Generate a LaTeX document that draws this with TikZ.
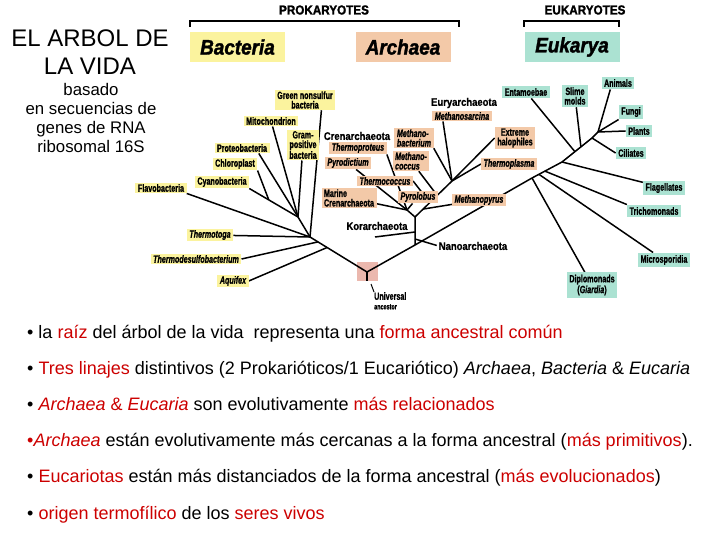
\documentclass[tikz,border=0pt]{standalone}
\usepackage{fontspec}
\setmainfont{Liberation Sans}
\newfontfamily\tolfont[FakeStretch=0.68,FakeBold=1.0]{Liberation Sans}
\newfontfamily\tolwidefont[FakeStretch=0.86,FakeBold=0.8]{Liberation Sans}
\newfontfamily\tolheavyfont[FakeStretch=0.9,FakeBold=1.6]{Liberation Sans}
\usetikzlibrary{backgrounds,calc}

\definecolor{tolyellow}{RGB}{251,243,158}
\definecolor{tolpeach}{RGB}{243,201,168}
\definecolor{tolmint}{RGB}{171,226,210}
\definecolor{tolpink}{RGB}{235,184,174}
\definecolor{tolred}{RGB}{204,0,0}

\tikzset{
  tollabel/.style={inner xsep=2.5pt, inner ysep=1.4pt, align=center, font=\tolfont\bfseries\fontsize{10.5}{9.6}\selectfont},
  tolit/.style={font=\tolfont\bfseries\itshape\fontsize{10.5}{9.6}\selectfont},
  tolbact/.style={tollabel, fill=tolyellow},
  tolarch/.style={tollabel, fill=tolpeach},
  toleuk/.style={tollabel, inner ysep=2.4pt, fill=tolmint},
  tolclade/.style={inner sep=0pt, font=\tolwidefont\bfseries\fontsize{11}{11}\selectfont},
  toldomain/.style={minimum width=95pt, minimum height=30pt, inner sep=0pt, font=\tolheavyfont\bfseries\itshape\fontsize{21}{21}\selectfont},
  tolhead/.style={inner sep=0pt, font=\tolheavyfont\bfseries\fontsize{13}{13}\selectfont},
  tolbracket/.style={line width=1.2pt},
  tolbranch/.style={line width=1.5pt, line join=round},
  tolbullet/.style={anchor=base west, inner sep=0pt, font=\fontsize{18}{18}\selectfont}
}

\begin{document}
\begin{tikzpicture}[x=1pt, y=-1pt]
\useasboundingbox (0,0) rectangle (720,540);

% title
\node[font=\fontsize{24}{28}\selectfont, align=center] (title) at (90,52) {EL ARBOL DE\\LA VIDA};
\node[font=\fontsize{16.8}{19}\selectfont, align=center] (subtitle) at (91,117.5) {basado\\en secuencias de\\genes de RNA\\ribosomal 16S};

% domains
\node[tolhead] (prok) at (324,10) {PROKARYOTES};
\node[tolhead] (euk) at (585,10) {EUKARYOTES};
\coordinate (prokl) at (190,27);
\coordinate (prokr) at (459,27);
\coordinate (eukl) at (524,27);
\coordinate (eukr) at (619,27);
\draw[tolbracket] (prokl) -- ++(0,-6) -| (prokr);
\draw[tolbracket] (eukl) -- ++(0,-6) -| (eukr);
\node[toldomain, fill=tolyellow] (bacteria) at (237.5,47) {Bacteria};
\node[toldomain, fill=tolpeach] (archaea) at (403,47) {Archaea};
\node[toldomain, fill=tolmint] (eukarya) at (572,47) {Eukarya};

% bacteria
\node[tolbact] (greenns) at (305,100) {Green nonsulfur\\bacteria};
\node[tolbact] (mito) at (271,121) {Mitochondrion};
\node[tolbact] (grampos) at (303,145) {Gram-\\positive\\bacteria};
\node[tolbact] (proteo) at (242,148) {Proteobacteria};
\node[tolbact] (chloro) at (235,164) {Chloroplast};
\node[tolbact] (cyano) at (222,182) {Cyanobacteria};
\node[tolbact] (flavo) at (161,188) {Flavobacteria};
\node[tolbact,tolit] (thermotoga) at (210,235) {Thermotoga};
\node[tolbact,tolit] (thermodesulfo) at (196,259) {Thermodesulfobacterium};
\node[tolbact,tolit] (aquifex) at (233,281) {Aquifex};

% archaea
\node[tolclade] (crenarch) at (357,136) {Crenarchaeota};
\node[tolarch,tolit] (thermoprot) at (358,148) {Thermoproteus};
\node[tolarch,tolit] (pyrodict) at (348,163) {Pyrodictium};
\node[tolarch,tolit] (thermococ) at (385,181) {Thermococcus};
\node[tolarch,align=left] (marine) at (349,198) {Marine\\Crenarchaeota};
\node[tolarch,tolit] (pyrolob) at (418,197) {Pyrolobus};
\node[tolarch,tolit,align=left] (methbact) at (414,138) {Methano-\\bacterium};
\node[tolarch,tolit,align=left] (methcocc) at (411,161) {Methano-\\coccus};
\node[tolclade] (euryarch) at (464,103) {Euryarchaeota};
\node[tolarch,tolit] (methsarc) at (462,116) {Methanosarcina};
\node[tolarch] (halo) at (515,138) {Extreme\\halophiles};
\node[tolarch,tolit] (thermopl) at (509,164) {Thermoplasma};
\node[tolarch,tolit] (methpyr) at (479,200) {Methanopyrus};
\node[tolclade] (korarch) at (377,226) {Korarchaeota};
\node[tolclade] (nanoarch) at (473,246) {Nanoarchaeota};

% eukarya
\node[toleuk] (entam) at (526,92) {Entamoebae};
\node[toleuk] (slime) at (575,96) {Slime\\molds};
\node[toleuk] (animals) at (618,83) {Animals};
\node[toleuk] (fungi) at (631,112) {Fungi};
\node[toleuk] (plants) at (639,131) {Plants};
\node[toleuk] (ciliates) at (631,153) {Ciliates};
\node[toleuk] (flagell) at (664,188) {Flagellates};
\node[toleuk] (trichom) at (654,211) {Trichomonads};
\node[toleuk] (microsp) at (664,260) {Microsporidia};
\node[toleuk] (diplom) at (592,285) {Diplomonads\\(\textit{Giardia})};

% universal ancestor
\node[tollabel, align=left, anchor=north west, inner sep=0pt] (ucatxt) at (374,292) {Universal\\{\fontsize{8}{8.5}\selectfont ancestor}};

% tree vertices
\coordinate (root) at (367,272);
\coordinate (rootstem) at (367,281);
\coordinate (ucaptr) at (371,284);
\coordinate (B0) at (310,237);
\coordinate (B2) at (298,217);
\coordinate (B3) at ($(cyano.south east)!0.4!(B2)$);
\coordinate (D1) at ($(B0)!0.14!(root)$);
\coordinate (D2) at ($(B0)!0.3!(root)$);
\coordinate (A0) at (415,245);
\coordinate (A1) at (415,217);
\coordinate (N1) at (415,239);
\coordinate (K1) at (415,232);
\coordinate (korend) at (375,237);
\coordinate (C) at (407,210);
\coordinate (Eu) at (452,181);
\coordinate (EuB) at ($(A1)!0.22!(Eu)$);
\coordinate (Mc) at ($(A1)!0.6!(Eu)$);
\coordinate (T1) at ($(A1)!0.4!(Eu)$);
\coordinate (E0) at (532,178);
\coordinate (E3) at (562,162);
\coordinate (E1) at ($(E0)!0.23!(E3)$);
\coordinate (E2) at ($(E0)!0.43!(E3)$);
\coordinate (E5) at (592,138);
\coordinate (E4a) at ($(E3)!0.43!(E5)$);
\coordinate (E4b) at ($(E3)!0.63!(E5)$);
\coordinate (E6) at (598,132);

\begin{pgfonlayer}{background}
\node[fill=tolpink, minimum width=21pt, minimum height=19pt, inner sep=0pt] (ucabox) at (367.5,271.5) {};
% bacteria
\draw[tolbranch] (root) -- (B0) -- (B2);
\draw[tolbranch] (greenns.-32) -- (B0);
\draw[tolbranch] (flavo.south east) -- (B0);
\draw[tolbranch] (thermotoga) -- (B0);
\draw[tolbranch] (thermodesulfo.east) -- (D1);
\draw[tolbranch] (aquifex.east) -- (D2);
\draw[tolbranch] (mito) -- (B2);
\draw[tolbranch] (grampos) -- (B2);
\draw[tolbranch] (proteo.-18) -- (B2);
\draw[tolbranch] (cyano.south east) -- (B2);
\draw[tolbranch] (chloro.south east) -- (B3);
% archaea
\draw[tolbranch] (root) -- (A0) -- (E0);
\draw[tolbranch] (A0) -- (A1) -- (C);
\draw[tolbranch, shorten >=2pt] (N1) -- (nanoarch.west);
\draw[tolbranch] (K1) -- (korend);
\draw[tolbranch] (marine) -- (C);
\draw[tolbranch] (pyrodict) -- (C);
\draw[tolbranch] (thermoprot.south east) -- (C);
\draw[tolbranch] (pyrolob) -- (C);
\draw[tolbranch] (A1) -- (Eu);
\draw[tolbranch] (thermococ.east) -- (T1);
\draw[tolbranch] (EuB) -- (methpyr);
\draw[tolbranch] (Mc) -- (methcocc);
\draw[tolbranch] (Eu) -- (methsarc.196);
\draw[tolbranch] (Eu) -- (methbact.south east);
\draw[tolbranch] (Eu) -- (halo.west);
\draw[tolbranch] (Eu) -- (thermopl.west);
% eukarya
\draw[tolbranch] (E0) -- (E3) -- (E5) -- (E6) -- (fungi.south west);
\draw[tolbranch] (E0) -- (diplom);
\draw[tolbranch] (E1) -- (microsp);
\draw[tolbranch] (E2) -- (trichom.north west);
\draw[tolbranch] (E3) -- (flagell.165);
\draw[tolbranch] (E4a) -- (entam);
\draw[tolbranch] (E4b) -- (slime);
\draw[tolbranch] (E5) -- (ciliates.west);
\draw[tolbranch] (E6) -- (animals.220);
\draw[tolbranch] (E6) -- (plants.west);
% root
\draw[tolbranch] (root) -- (rootstem);
\draw[line width=1pt] (ucaptr) -- (ucatxt.north west);
\end{pgfonlayer}

% notes
\node[tolbullet] (note1) at (27,338.5) {• la \textcolor{tolred}{raíz} del árbol de la vida~ representa una \textcolor{tolred}{forma ancestral común}};
\node[tolbullet] (note2) at (27,374.5) {• \textcolor{tolred}{Tres linajes} distintivos (2 Prokarióticos/1 Eucariótico) \textit{Archaea}, \textit{Bacteria} \& \textit{Eucaria}};
\node[tolbullet] (note3) at (27,410.5) {• \textcolor{tolred}{\textit{Archaea} \& \textit{Eucaria}} son evolutivamente \textcolor{tolred}{más relacionados}};
\node[tolbullet] (note4) at (27,446.5) {\textcolor{tolred}{•\textit{Archaea}} están evolutivamente más cercanas a la forma ancestral (\textcolor{tolred}{más primitivos}).};
\node[tolbullet] (note5) at (27,482.5) {• \textcolor{tolred}{Eucariotas} están más distanciados de la forma ancestral (\textcolor{tolred}{más evolucionados})};
\node[tolbullet] (note6) at (27,519.5) {• \textcolor{tolred}{origen termofílico} de los \textcolor{tolred}{seres vivos}};
\end{tikzpicture}
\end{document}
